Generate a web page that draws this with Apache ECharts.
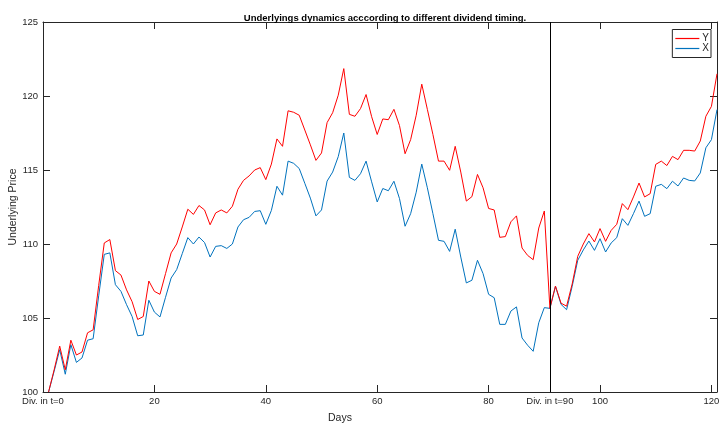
<!DOCTYPE html>
<html>
<head>
<meta charset="utf-8">
<script src="https://cdn.jsdelivr.net/npm/echarts@6/dist/echarts.min.js"></script>
<style>html,body{margin:0;padding:0;background:#fff;}#c{width:719px;height:428px;}</style>
</head>
<body>
<div id="c"></div>
<script>
// Series values, one per day index 1..121
const seriesY = [
  100, 101.5, 103.1, 101.5, 103.5, 102.5, 102.7, 104.0, 104.2, 107.2,
  110.07, 110.3, 108.2, 107.9, 106.9, 106.1, 104.9, 105.1, 107.5, 106.8,
  106.6, 108.0, 109.4, 110.0, 111.15, 112.35, 112.0, 112.6, 112.3, 111.3,
  112.1, 112.3, 112.1, 112.55, 113.7, 114.3, 114.6, 115.0, 115.16, 114.35,
  115.4, 117.1, 116.6, 119.0, 118.9, 118.7, 117.7, 116.7, 115.65, 116.15,
  118.2, 118.87, 120.05, 121.85, 118.76, 118.63, 119.15, 120.1, 118.6, 117.4,
  118.45, 118.4, 119.1, 118.0, 116.1, 117.05, 118.7, 120.8, 119.1, 117.4,
  115.6, 115.6, 114.98, 116.6, 114.86, 112.9, 113.2, 114.7, 113.8, 112.4,
  112.3, 110.45, 110.5, 111.5, 111.9, 109.73, 109.23, 108.94, 111.08, 112.23,
  105.65, 107.16, 106.0, 105.8, 107.3, 109.17, 110.0, 110.7, 110.14, 111.04,
  110.18, 110.92, 111.33, 112.73, 112.32, 113.18, 114.12, 113.18, 113.4, 115.38,
  115.6, 115.3, 115.92, 115.7, 116.33, 116.33, 116.28, 116.96, 118.63, 119.3,
  121.5
];
const seriesX = [
  100, 101.4, 102.86, 101.2, 103.2, 102.0, 102.3, 103.5, 103.6, 106.5,
  109.3, 109.4, 107.25, 106.8, 105.9, 105.1, 103.8, 103.85, 106.2, 105.4,
  105.07, 106.4, 107.7, 108.27, 109.35, 110.43, 110.0, 110.47, 110.1, 109.12,
  109.84, 109.89, 109.7, 110.0, 111.15, 111.64, 111.8, 112.2, 112.25, 111.33,
  112.27, 113.9, 113.3, 115.6, 115.45, 115.1, 114.1, 113.1, 111.9, 112.3,
  114.25, 114.86, 115.9, 117.5, 114.5, 114.3, 114.75, 115.6, 114.2, 112.84,
  113.75, 113.6, 114.24, 113.07, 111.2, 112.05, 113.5, 115.4, 113.8, 112.05,
  110.25, 110.18, 109.5, 111.0, 109.12, 107.37, 107.55, 108.9, 108.0, 106.6,
  106.37, 104.57, 104.57, 105.47, 105.75, 103.65, 103.16, 102.75, 104.68, 105.7,
  105.65, 107.14, 105.92, 105.56, 107.14, 108.9, 109.6, 110.2, 109.57, 110.36,
  109.46, 110.07, 110.43, 111.71, 111.26, 112.05, 112.9, 111.87, 112.05, 113.9,
  114.03, 113.74, 114.24, 113.92, 114.46, 114.3, 114.26, 114.8, 116.5, 117.05,
  119.08
];
const xTickValues = [0, 20, 40, 60, 80, 91, 100, 120];
const xTickLabels = ['Div. in t=0', '20', '40', '60', '80', 'Div. in t=90', '100', '120'];
const dividendDay = 91;
const seriesNames = ['Y', 'X'];

const FONT = '"Liberation Sans", Arial, sans-serif';
const TXT = '#262626';
const pairs = arr => arr.map((v, i) => [i + 1, v]);

const chart = echarts.init(document.getElementById('c'), null, {renderer: 'canvas'});
const tickCommon = {show: true, inside: true, length: 7, lineStyle: {color: TXT, width: 1}};
const lineCommon = {show: true, onZero: false, lineStyle: {color: TXT, width: 1}};

chart.setOption({
  animation: false,
  backgroundColor: '#fff',
  textStyle: {fontFamily: FONT},
  title: [
    {text: 'Underlyings dynamics acccording to different dividend timing.', left: 380, top: 8, textAlign: 'center',
     textStyle: {fontFamily: FONT, fontSize: 9.5, fontWeight: 'bold', color: '#000'}},
    {text: 'Days', left: 335, top: 408, textAlign: 'center',
     textStyle: {fontFamily: FONT, fontSize: 10.5, fontWeight: 'normal', color: TXT}}
  ],
  legend: {
    orient: 'vertical', right: 8, top: 29.5,
    data: seriesNames,
    icon: 'rect', itemWidth: 24, itemHeight: 1.2, itemGap: 0,
    borderColor: TXT, borderWidth: 1, backgroundColor: '#fff',
    padding: [4, 2, 4, 3],
    textStyle: {fontFamily: FONT, fontSize: 10, lineHeight: 10, color: TXT, padding: [0, 0, 0, -2]}
  },
  grid: {left: 43, right: 2, top: 22, bottom: 36, containLabel: false, outerBoundsMode: 'none'},
  xAxis: [
    {type: 'value', min: 0, max: 121, position: 'bottom',
     axisLine: lineCommon, splitLine: {show: false},
     axisTick: Object.assign({customValues: xTickValues}, tickCommon),
     axisLabel: {customValues: xTickValues, color: TXT, fontSize: 9.5, fontFamily: FONT, margin: 4,
       formatter: v => xTickLabels[xTickValues.indexOf(v)]}},
    {type: 'value', min: 0, max: 121, position: 'top',
     axisLine: lineCommon, splitLine: {show: false},
     axisTick: Object.assign({customValues: xTickValues}, tickCommon),
     axisLabel: {show: false}}
  ],
  yAxis: [
    {type: 'value', min: 100, max: 125, interval: 5, position: 'left',
     name: 'Underlying Price', nameLocation: 'middle', nameGap: 24, nameMoveOverlap: false,
     nameTextStyle: {fontFamily: FONT, fontSize: 10.5, color: TXT},
     axisLine: lineCommon, splitLine: {show: false},
     axisTick: tickCommon,
     axisLabel: {color: TXT, fontSize: 9.5, fontFamily: FONT, margin: 5}},
    {type: 'value', min: 100, max: 125, interval: 5, position: 'right',
     axisLine: lineCommon, splitLine: {show: false},
     axisTick: tickCommon, axisLabel: {show: false}}
  ],
  series: [
    {name: seriesNames[0], type: 'line', data: pairs(seriesY), showSymbol: false, symbol: 'none',
     lineStyle: {color: '#ff0000', width: 1}, itemStyle: {color: '#ff0000'}, z: 3,
     markLine: {silent: true, symbol: 'none', label: {show: false},
       lineStyle: {color: '#000', width: 1, type: 'solid'}, data: [{xAxis: dividendDay}]}},
    {name: seriesNames[1], type: 'line', data: pairs(seriesX), showSymbol: false, symbol: 'none',
     lineStyle: {color: '#0072bd', width: 1}, itemStyle: {color: '#0072bd'}, z: 2}
  ]
});
</script>
</body>
</html>
